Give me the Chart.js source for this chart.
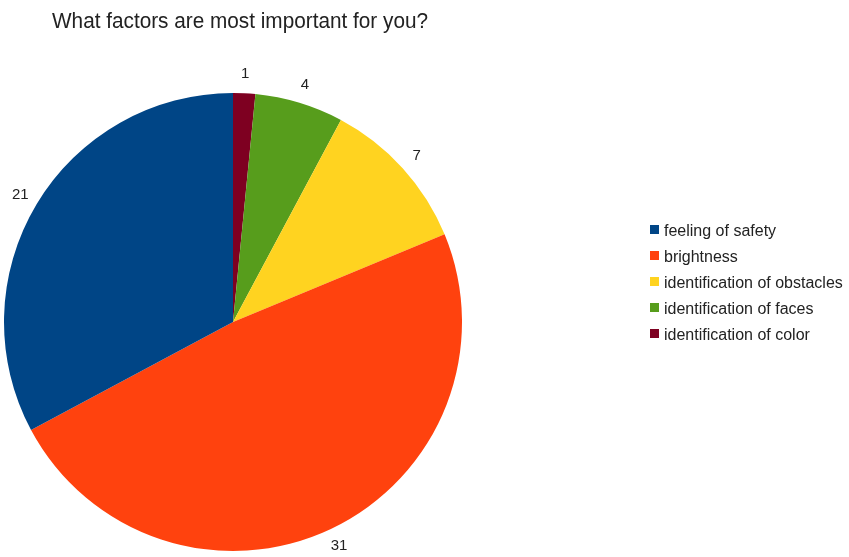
<!DOCTYPE html>
<html lang="en">
<head>
    <meta charset="UTF-8">
    <title>What factors are most important for you?</title>
    <script src="https://cdn.jsdelivr.net/npm/chart.js"></script>
    <style>
        body {
            margin: 0;
            padding: 0;
            background-color: #fff;
        }
        .chart-container {
            position: relative;
            width: 849px;
            height: 557px;
        }
    </style>
</head>
<body>
    <div class="chart-container">
        <canvas id="factorsChart"></canvas>
    </div>

    <script>
        // Data in legend order
        const titleText = 'What factors are most important for you?';
        const categories = ['feeling of safety', 'brightness', 'identification of obstacles', 'identification of faces', 'identification of color'];
        const votes = [21, 31, 7, 4, 1];
        const colors = ['#004586', '#ff420e', '#ffd320', '#579d1c', '#7e0021'];

        // slices go counter-clockwise from the top in the original, so feed them reversed
        const drawLabels = categories.slice().reverse();
        const drawVotes = votes.slice().reverse();
        const drawColors = colors.slice().reverse();

        const extrasPlugin = {
            id: 'extras',
            afterDraw(chart) {
                const ctx = chart.ctx;
                ctx.save();
                ctx.textBaseline = 'alphabetic';

                // title (original is a bit condensed)
                ctx.fillStyle = '#222';
                ctx.font = '22px "Liberation Sans", Arial, sans-serif';
                ctx.textAlign = 'left';
                ctx.fillText(titleText, 52, 28, 376);

                // value labels outside each slice
                const meta = chart.getDatasetMeta(0);
                ctx.font = '15px "Liberation Sans", Arial, sans-serif';
                ctx.textAlign = 'center';
                ctx.textBaseline = 'middle';
                meta.data.forEach((arc, i) => {
                    const p = arc.getProps(['x', 'y', 'startAngle', 'endAngle', 'outerRadius'], true);
                    const mid = (p.startAngle + p.endAngle) / 2;
                    const r = p.outerRadius + 19;
                    ctx.fillText(String(drawVotes[i]), p.x + Math.cos(mid) * r, p.y + Math.sin(mid) * r);
                });

                // legend
                ctx.textAlign = 'left';
                ctx.textBaseline = 'alphabetic';
                ctx.font = '16px "Liberation Sans", Arial, sans-serif';
                categories.forEach((name, i) => {
                    const y = 236 + i * 26;
                    ctx.fillStyle = colors[i];
                    ctx.fillRect(650, y - 11, 9, 9);
                    ctx.fillStyle = '#222';
                    ctx.fillText(name, 664, y, 184);
                });

                ctx.restore();
            }
        };

        const ctx = document.getElementById('factorsChart').getContext('2d');
        const factorsChart = new Chart(ctx, {
            type: 'pie',
            data: {
                labels: drawLabels,
                datasets: [{
                    data: drawVotes,
                    backgroundColor: drawColors,
                    borderWidth: 0
                }]
            },
            options: {
                responsive: true,
                maintainAspectRatio: false,
                animation: false,
                layout: {
                    padding: { left: 4, right: 387, top: 93, bottom: 6 }
                },
                plugins: {
                    legend: { display: false },
                    title: { display: false },
                    tooltip: { enabled: false }
                }
            },
            plugins: [extrasPlugin]
        });
    </script>
</body>
</html>
